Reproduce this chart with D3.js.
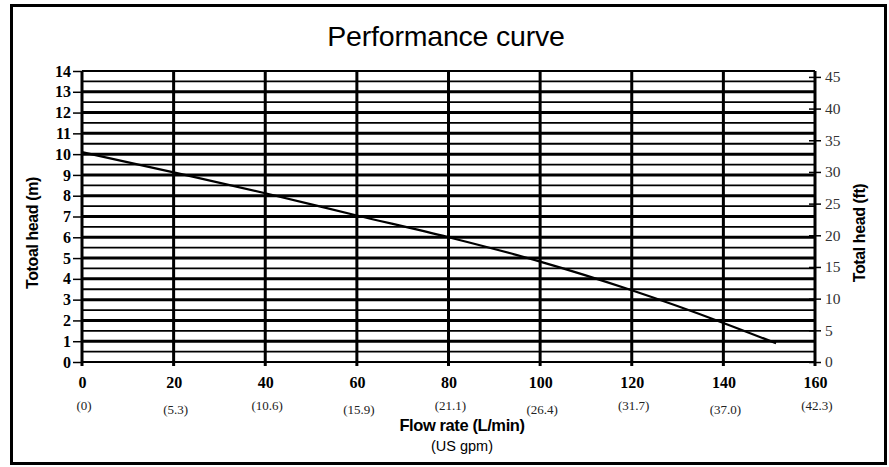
<!DOCTYPE html>
<html>
<head>
<meta charset="utf-8">
<script src="https://cdn.jsdelivr.net/npm/d3@7/dist/d3.min.js"></script>
<style>
  html, body { margin: 0; padding: 0; background: #fff; }
  svg { display: block; }
</style>
</head>
<body>
<svg id="chart" width="889" height="467"></svg>
<script>
// ---- data ----
const flowLpm = [0, 20, 40, 60, 80, 100, 120, 140, 151.5];
const headM   = [10.1, 9.12, 8.12, 7.05, 6.0, 4.83, 3.45, 1.88, 0.9];
const xTicks = [0, 20, 40, 60, 80, 100, 120, 140, 160];
const gpmLabels = ["(0)", "(5.3)", "(10.6)", "(15.9)", "(21.1)", "(26.4)", "(31.7)", "(37.0)", "(42.3)"];
const yTicksM = [0, 1, 2, 3, 4, 5, 6, 7, 8, 9, 10, 11, 12, 13, 14];
const yTicksFt = [0, 5, 10, 15, 20, 25, 30, 35, 40, 45];
const title = "Performance curve";

// ---- layout ----
const svg = d3.select("#chart");
const L = 82, R = 815, T = 71, B = 362;
const x = d3.scaleLinear().domain([0, 160]).range([L, R]);
const y = d3.scaleLinear().domain([0, 14]).range([B, T]);
const yFt = d3.scaleLinear().domain([0, 14 * 3.28084]).range([B, T]);

// outer frame
svg.append("rect").attr("x", 11.5).attr("y", 5.5).attr("width", 874).attr("height", 458)
  .attr("fill", "none").attr("stroke", "#000").attr("stroke-width", 3);

// title
svg.append("text").attr("x", 446).attr("y", 46).attr("text-anchor", "middle")
  .attr("font-family", "Liberation Sans, Arial, sans-serif").attr("font-size", 28.5)
  .attr("letter-spacing", -0.2)
  .attr("fill", "#000").text(title);

// horizontal gridlines (every 0.5 m)
const halfSteps = d3.range(0, 14.01, 0.5);
svg.append("g").selectAll("line").data(halfSteps).join("line")
  .attr("x1", L).attr("x2", R)
  .attr("y1", d => y(d)).attr("y2", d => y(d))
  .attr("stroke", "#000")
  .attr("stroke-width", d => (Number.isInteger(d) && d > 0 && d < 14) ? 3 : 1.8);

// vertical gridlines
svg.append("g").selectAll("line").data(xTicks).join("line")
  .attr("x1", d => x(d)).attr("x2", d => x(d))
  .attr("y1", T).attr("y2", B + 4)
  .attr("stroke", "#000").attr("stroke-width", 3);

// left axis
const leftAxis = d3.axisLeft(y).tickValues(yTicksM).tickSize(9).tickPadding(2);
const gl = svg.append("g").attr("transform", `translate(${L},0)`).call(leftAxis);
gl.select(".domain").remove();
gl.selectAll(".tick line").attr("stroke", "#000").attr("stroke-width", 1.5);
gl.selectAll(".tick text").attr("font-family", "Liberation Serif, Times New Roman, serif")
  .attr("font-weight", "bold").attr("font-size", 16).attr("fill", "#000");

// right axis (ft)
const rightAxis = d3.axisRight(yFt).tickValues(yTicksFt).tickSize(6).tickPadding(4);
const gr = svg.append("g").attr("transform", `translate(${R},0)`).call(rightAxis);
gr.select(".domain").remove();
gr.selectAll(".tick line").attr("x1", -6).attr("stroke", "#000").attr("stroke-width", 1.5);
gr.selectAll(".tick text").attr("font-family", "Liberation Serif, Times New Roman, serif")
  .attr("font-size", 15.5).attr("fill", "#333");

// bottom axis labels (L/min)
const bottomAxis = d3.axisBottom(x).tickValues(xTicks).tickSize(0).tickPadding(15);
const gb = svg.append("g").attr("transform", `translate(0,${B})`).call(bottomAxis);
gb.select(".domain").remove();
gb.selectAll(".tick text").attr("font-family", "Liberation Serif, Times New Roman, serif")
  .attr("font-weight", "bold").attr("font-size", 16).attr("fill", "#000");

// gpm labels
svg.append("g").selectAll("text").data(xTicks).join("text")
  .attr("x", (d, i) => x(d) + 2)
  .attr("y", (d, i) => i % 2 === 0 ? 410 : 414)
  .attr("text-anchor", "middle")
  .attr("font-family", "Liberation Serif, Times New Roman, serif")
  .attr("font-size", 13).attr("fill", "#222")
  .text((d, i) => gpmLabels[i]);

// axis titles
svg.append("text").attr("x", 462).attr("y", 431).attr("text-anchor", "middle")
  .attr("font-family", "Liberation Sans, Arial, sans-serif").attr("font-weight", "bold")
  .attr("font-size", 16.5).attr("letter-spacing", -0.4).text("Flow rate (L/min)");
svg.append("text").attr("x", 462).attr("y", 451).attr("text-anchor", "middle")
  .attr("font-family", "Liberation Sans, Arial, sans-serif")
  .attr("font-size", 14.5).text("(US gpm)");
svg.append("text").attr("transform", "translate(38,233) rotate(-90)").attr("text-anchor", "middle")
  .attr("font-family", "Liberation Sans, Arial, sans-serif").attr("font-weight", "bold")
  .attr("font-size", 16).attr("letter-spacing", -0.4).text("Totoal head (m)");
svg.append("text").attr("transform", "translate(865,233) rotate(-90)").attr("text-anchor", "middle")
  .attr("font-family", "Liberation Sans, Arial, sans-serif").attr("font-weight", "bold")
  .attr("font-size", 16).attr("letter-spacing", -0.4).text("Total head (ft)");

// performance curve
const line = d3.line().x((d, i) => x(flowLpm[i])).y(d => y(d)).curve(d3.curveMonotoneX);
svg.append("path").datum(headM).attr("d", line)
  .attr("fill", "none").attr("stroke", "#000").attr("stroke-width", 2.2);
</script>
</body>
</html>
